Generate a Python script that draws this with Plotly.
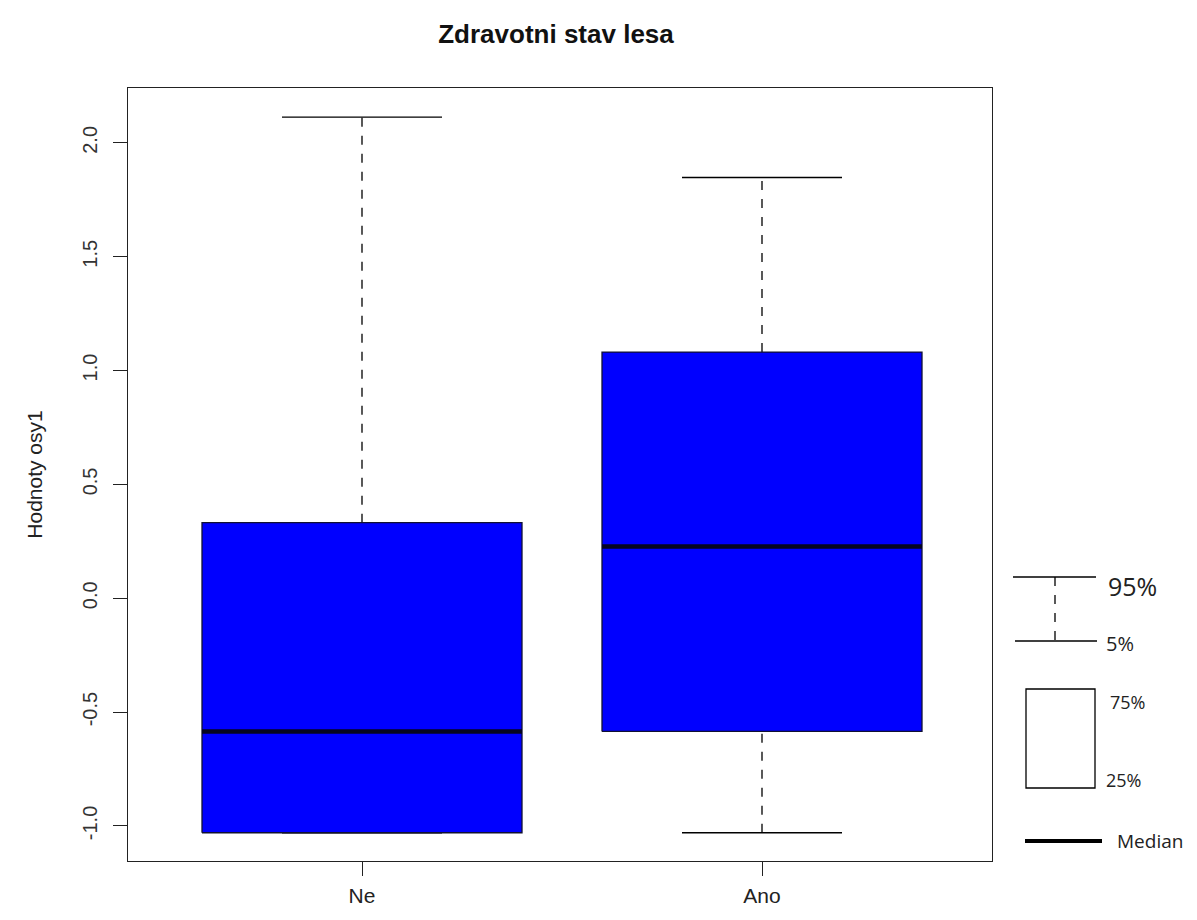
import plotly.graph_objects as go

# Box-plot statistics per group
categories = ["Ne", "Ano"]
positions = [1, 2]
whisker_low = [-1.03, -1.03]
q1 = [-1.03, -0.585]
median = [-0.585, 0.227]
q3 = [0.332, 1.081]
whisker_high = [2.113, 1.848]

BOX_W = 0.8   # box width in category units
CAP_W = 0.4   # whisker cap width

fig = go.Figure()

for x, lo, a, m, b, hi in zip(positions, whisker_low, q1, median, q3, whisker_high):
    h = BOX_W / 2
    c = CAP_W / 2
    # whiskers (dashed) and caps (solid)
    for y0, y1 in ((b, hi), (lo, a)):
        if y1 > y0:
            fig.add_trace(go.Scatter(x=[x, x], y=[y0, y1], mode="lines",
                                     line=dict(color="black", width=1.3, dash="dash"),
                                     hoverinfo="skip"))
    for y in (lo, hi):
        fig.add_trace(go.Scatter(x=[x - c, x + c], y=[y, y], mode="lines",
                                 line=dict(color="black", width=1.3), hoverinfo="skip"))
    # box body
    fig.add_trace(go.Scatter(x=[x - h, x + h, x + h, x - h, x - h],
                             y=[a, a, b, b, a], mode="lines", fill="toself",
                             fillcolor="#0000FF", line=dict(color="#111133", width=1.3),
                             hoverinfo="skip"))
    # median
    fig.add_trace(go.Scatter(x=[x - h, x + h], y=[m, m], mode="lines",
                             line=dict(color="#050520", width=4.5), hoverinfo="skip"))

# plot-area geometry in pixels
W, H = 1197, 920
L, R, T, B = 128, 205, 88, 59
PW, PH = W - L - R, H - T - B


def px(x):
    return (x - L) / PW


def py(y):
    return (H - B - y) / PH


# key drawn to the right of the plot
legend_shapes = [
    dict(type="line", x0=px(1013), x1=px(1096), y0=py(577), y1=py(577),
         line=dict(color="black", width=1.3)),
    dict(type="line", x0=px(1055), x1=px(1055), y0=py(577), y1=py(641),
         line=dict(color="black", width=1.3, dash="dash")),
    dict(type="line", x0=px(1015), x1=px(1097), y0=py(641), y1=py(641),
         line=dict(color="black", width=1.3)),
    dict(type="rect", x0=px(1026), x1=px(1095), y0=py(689), y1=py(788),
         line=dict(color="black", width=1.3), fillcolor="white"),
    dict(type="line", x0=px(1025), x1=px(1102), y0=py(841), y1=py(841),
         line=dict(color="black", width=4)),
]
for s in legend_shapes:
    s.update(xref="paper", yref="paper")
    fig.add_shape(**s)

key_labels = [("95%", 1106, 586, 25), ("5%", 1104, 643, 20), ("75%", 1108, 702, 18),
              ("25%", 1104, 780, 18), ("Median", 1115, 841, 19)]
for txt, x, y, size in key_labels:
    fig.add_annotation(text=txt, x=px(x), y=py(y), xref="paper", yref="paper",
                       xanchor="left", yanchor="middle", showarrow=False,
                       font=dict(family="Open Sans", size=size, color="#222"))

axis_common = dict(showline=True, mirror=True, linecolor="#222", linewidth=1.3,
                   showgrid=False, zeroline=False, ticks="outside", ticklen=14,
                   tickcolor="#222", tickwidth=1.3, automargin=False)

fig.update_layout(
    width=W, height=H,
    margin=dict(l=L, r=R, t=T, b=B, autoexpand=False),
    paper_bgcolor="white", plot_bgcolor="white",
    showlegend=False,
    title=dict(text="<b>Zdravotni stav lesa</b>", x=556 / W, xanchor="center",
               y=(H - 34) / H, yanchor="middle", automargin=False,
               font=dict(family="Liberation Sans, Arial", size=26, color="#111")),
    xaxis=dict(range=[0.415, 2.575], tickvals=positions, ticktext=categories,
               ticklabelstandoff=2,
               tickfont=dict(family="Liberation Sans, Arial", size=21, color="#222"),
               **axis_common),
    yaxis=dict(range=[-1.154, 2.241], tickvals=[-1.0, -0.5, 0.0, 0.5, 1.0, 1.5, 2.0],
               ticktext=["-1.0", "-0.5", "0.0", "0.5", "1.0", "1.5", "2.0"],
               tickangle=-90, ticklabelstandoff=8,
               tickfont=dict(family="Liberation Sans, Arial", size=20, color="#333"),
               title=dict(text="Hodnoty osy1", standoff=30,
                          font=dict(family="Liberation Sans, Arial", size=21, color="#222")),
               **axis_common),
)

fig.write_html("out.html")
